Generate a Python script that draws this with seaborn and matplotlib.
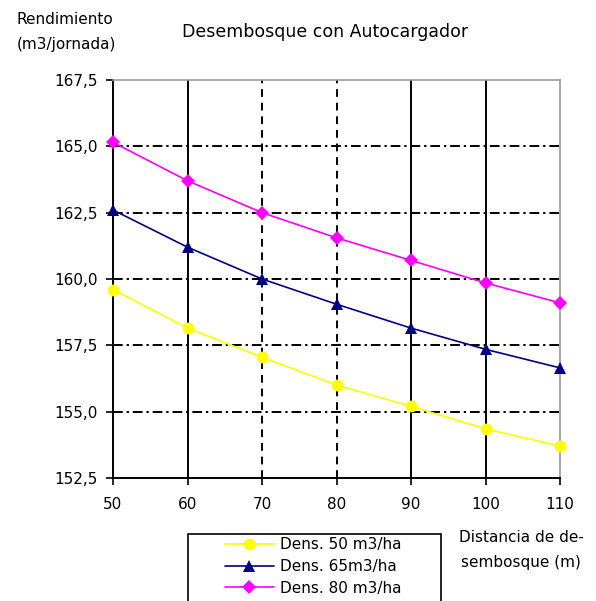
import numpy as np
import pandas as pd
import matplotlib
matplotlib.use("Agg")
import matplotlib.pyplot as plt
from matplotlib.patches import Rectangle
import seaborn as sns

# Data
distancia = [50, 60, 70, 80, 90, 100, 110]
dens_50 = [159.6, 158.15, 157.05, 156.0, 155.2, 154.35, 153.7]
dens_65 = [162.6, 161.2, 160.0, 159.05, 158.15, 157.35, 156.65]
dens_80 = [165.15, 163.7, 162.5, 161.55, 160.7, 159.85, 159.1]
series_names = ["Dens. 50 m3/ha", "Dens. 65m3/ha", "Dens. 80 m3/ha"]

y_ticks = [152.5, 155.0, 157.5, 160.0, 162.5, 165.0, 167.5]
y_tick_labels = ["152,5", "155,0", "157,5", "160,0", "162,5", "165,0", "167,5"]
x_ticks = [50, 60, 70, 80, 90, 100, 110]

df = pd.DataFrame({
    "Distancia": distancia * 3,
    "Rendimiento": dens_50 + dens_65 + dens_80,
    "Serie": [series_names[0]] * 7 + [series_names[1]] * 7 + [series_names[2]] * 7,
})

sns.set_style("white")
plt.rcParams["font.family"] = ["DejaVu Sans"]
plt.rcParams["text.color"] = "black"
plt.rcParams["xtick.color"] = "black"
plt.rcParams["ytick.color"] = "black"

fig = plt.figure(figsize=(5.96, 6.01), dpi=100)
W, H = 596, 601
ax = fig.add_axes([113 / W, 1 - 478 / H, 447 / W, 398 / H])

colors = ["#FFFF00", "#000080", "#FF00FF"]
marks = ["o", "^", "D"]
msizes = [8.5, 8.5, 7]

# grid lines first so series sit on top
for x in x_ticks[1:-1]:
    ls = (0, (4, 3)) if x in (70, 80) else "-"
    ax.axvline(x, color="black", lw=1.4, ls=ls, zorder=1)
for y in y_ticks[1:-1]:
    ax.axhline(y, color="black", lw=1.4, ls=(0, (5, 2, 1.2, 2)), zorder=1)

for name, c, m, s in zip(series_names, colors, marks, msizes):
    sub = df[df["Serie"] == name]
    sns.lineplot(data=sub, x="Distancia", y="Rendimiento", color=c, marker=m,
                 markersize=s, markeredgewidth=0, linewidth=1.2, ax=ax,
                 label=name, zorder=3, clip_on=False)

ax.set_xlim(50, 110)
ax.set_ylim(152.5, 167.5)
ax.set_xticks(x_ticks)
ax.set_xticklabels([str(x) for x in x_ticks], fontsize=11)
ax.set_yticks(y_ticks)
ax.set_yticklabels(y_tick_labels, fontsize=11)
ax.tick_params(axis="both", direction="out", length=5, width=1.2, color="black",
               labelcolor="black", bottom=True, left=True)
ax.tick_params(axis="x", pad=9)
ax.tick_params(axis="y", pad=6)
ax.set_xlabel("")
ax.set_ylabel("")

for side in ["left", "bottom"]:
    ax.spines[side].set_color("black")
    ax.spines[side].set_linewidth(1.4)
for side in ["top", "right"]:
    ax.spines[side].set_color("#999999")
    ax.spines[side].set_linewidth(1.2)

fig.text(325 / W, 1 - 32 / H, "Desembosque con Autocargador", ha="center", va="center", fontsize=12.5)
fig.text(17 / W, 1 - 20 / H, "Rendimiento", ha="left", va="center", fontsize=11)
fig.text(17 / W, 1 - 45 / H, "(m3/jornada)", ha="left", va="center", fontsize=11)
fig.text(521 / W, 1 - 538 / H, "Distancia de de-", ha="center", va="center", fontsize=11)
fig.text(521 / W, 1 - 563 / H, "sembosque (m)", ha="center", va="center", fontsize=11)

# legend box (runs off the bottom edge like the original)
fig.patches.append(Rectangle((188 / W, -0.05), (441 - 188) / W, 0.05 + (1 - 534 / H),
                             transform=fig.transFigure, fill=False, edgecolor="black",
                             linewidth=1.2, zorder=5))
handles, labels = ax.get_legend_handles_labels()
leg = fig.legend(handles, labels, loc="upper left", bbox_to_anchor=(225 / W, 1 - 537 / H),
                 frameon=False, fontsize=11, handlelength=3.2, handletextpad=0.4,
                 labelspacing=0.45, borderpad=0, borderaxespad=0)
ax.get_legend().remove()

fig.savefig("out.png", dpi=100)
